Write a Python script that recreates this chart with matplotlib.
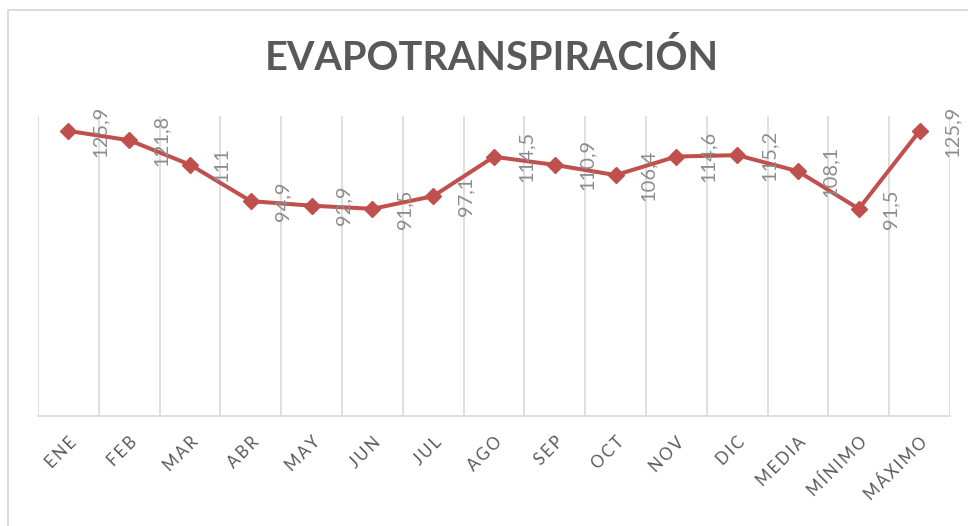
import numpy as np
import matplotlib
matplotlib.use("Agg")
import matplotlib.pyplot as plt
from matplotlib.patches import Rectangle

# Monthly evapotranspiration plus summary statistics
categories = ["ENE", "FEB", "MAR", "ABR", "MAY", "JUN", "JUL", "AGO",
              "SEP", "OCT", "NOV", "DIC", "MEDIA", "MÍNIMO", "MÁXIMO"]
values = [125.9, 121.8, 111, 94.9, 92.9, 91.5, 97.1, 114.5,
          110.9, 106.4, 114.6, 115.2, 108.1, 91.5, 125.9]
value_labels = ["125,9", "121,8", "111", "94,9", "92,9", "91,5", "97,1", "114,5",
                "110,9", "106,4", "114,6", "115,2", "108,1", "91,5", "125,9"]

W, H = 968, 526
fig = plt.figure(figsize=(W / 100, H / 100), dpi=100)
fig.patch.set_facecolor("white")

# chart frame
fig.add_artist(Rectangle((8 / W, -0.05), 1.2, (H - 10) / H + 0.05,
                         transform=fig.transFigure, fill=False,
                         edgecolor="#D9D9D9", linewidth=1.3))

left, right, top, bottom = 38, 950, 116, 416
ax = fig.add_axes([left / W, 1 - bottom / H, (right - left) / W, (bottom - top) / H])

x = np.arange(len(categories))
ax.plot(x, values, color="#C0504D", linewidth=2.9, marker="D",
        markersize=8, markerfacecolor="#C0504D", markeredgecolor="#C0504D",
        zorder=3)

ax.set_xlim(-0.5, len(categories) - 0.5)
ax.set_ylim(0, 132.5)

# vertical gridlines on category boundaries
ax.set_xticks(np.arange(-0.5, len(categories)), minor=True)
ax.grid(which="minor", axis="x", color="#D9D9D9", linewidth=1.2)
ax.tick_params(which="both", length=0)
ax.set_yticks([])


def spaced(word, gap="\u2009"):
    """Letter-spaced version of a label."""
    return gap.join(word)


ax.set_xticks(x)
ax.set_xticklabels([spaced(c) for c in categories], rotation=45, ha="right",
                   va="top", rotation_mode="anchor", fontsize=12,
                   color="#595959", family=["Lato", "DejaVu Sans"])
ax.tick_params(axis="x", which="major", pad=13)

for s in ("top", "left", "right"):
    ax.spines[s].set_visible(False)
ax.spines["bottom"].set_color("#D9D9D9")
ax.spines["bottom"].set_linewidth(1.2)

# value labels, rotated, beside each point
for xi, v, lab in zip(x, values, value_labels):
    ax.text(xi + 0.53, v, lab, rotation=90, ha="center", va="center",
            fontsize=14.5, color="#8C8C8C", family="Lato", clip_on=False)

fig.text(492 / W, 1 - 58 / H, "EVAPOTRANSPIRACIÓN", ha="center", va="center",
         fontsize=28.5, fontweight="bold", color="#595959", family="Lato")

fig.savefig("out.png", dpi=100, facecolor="white")
